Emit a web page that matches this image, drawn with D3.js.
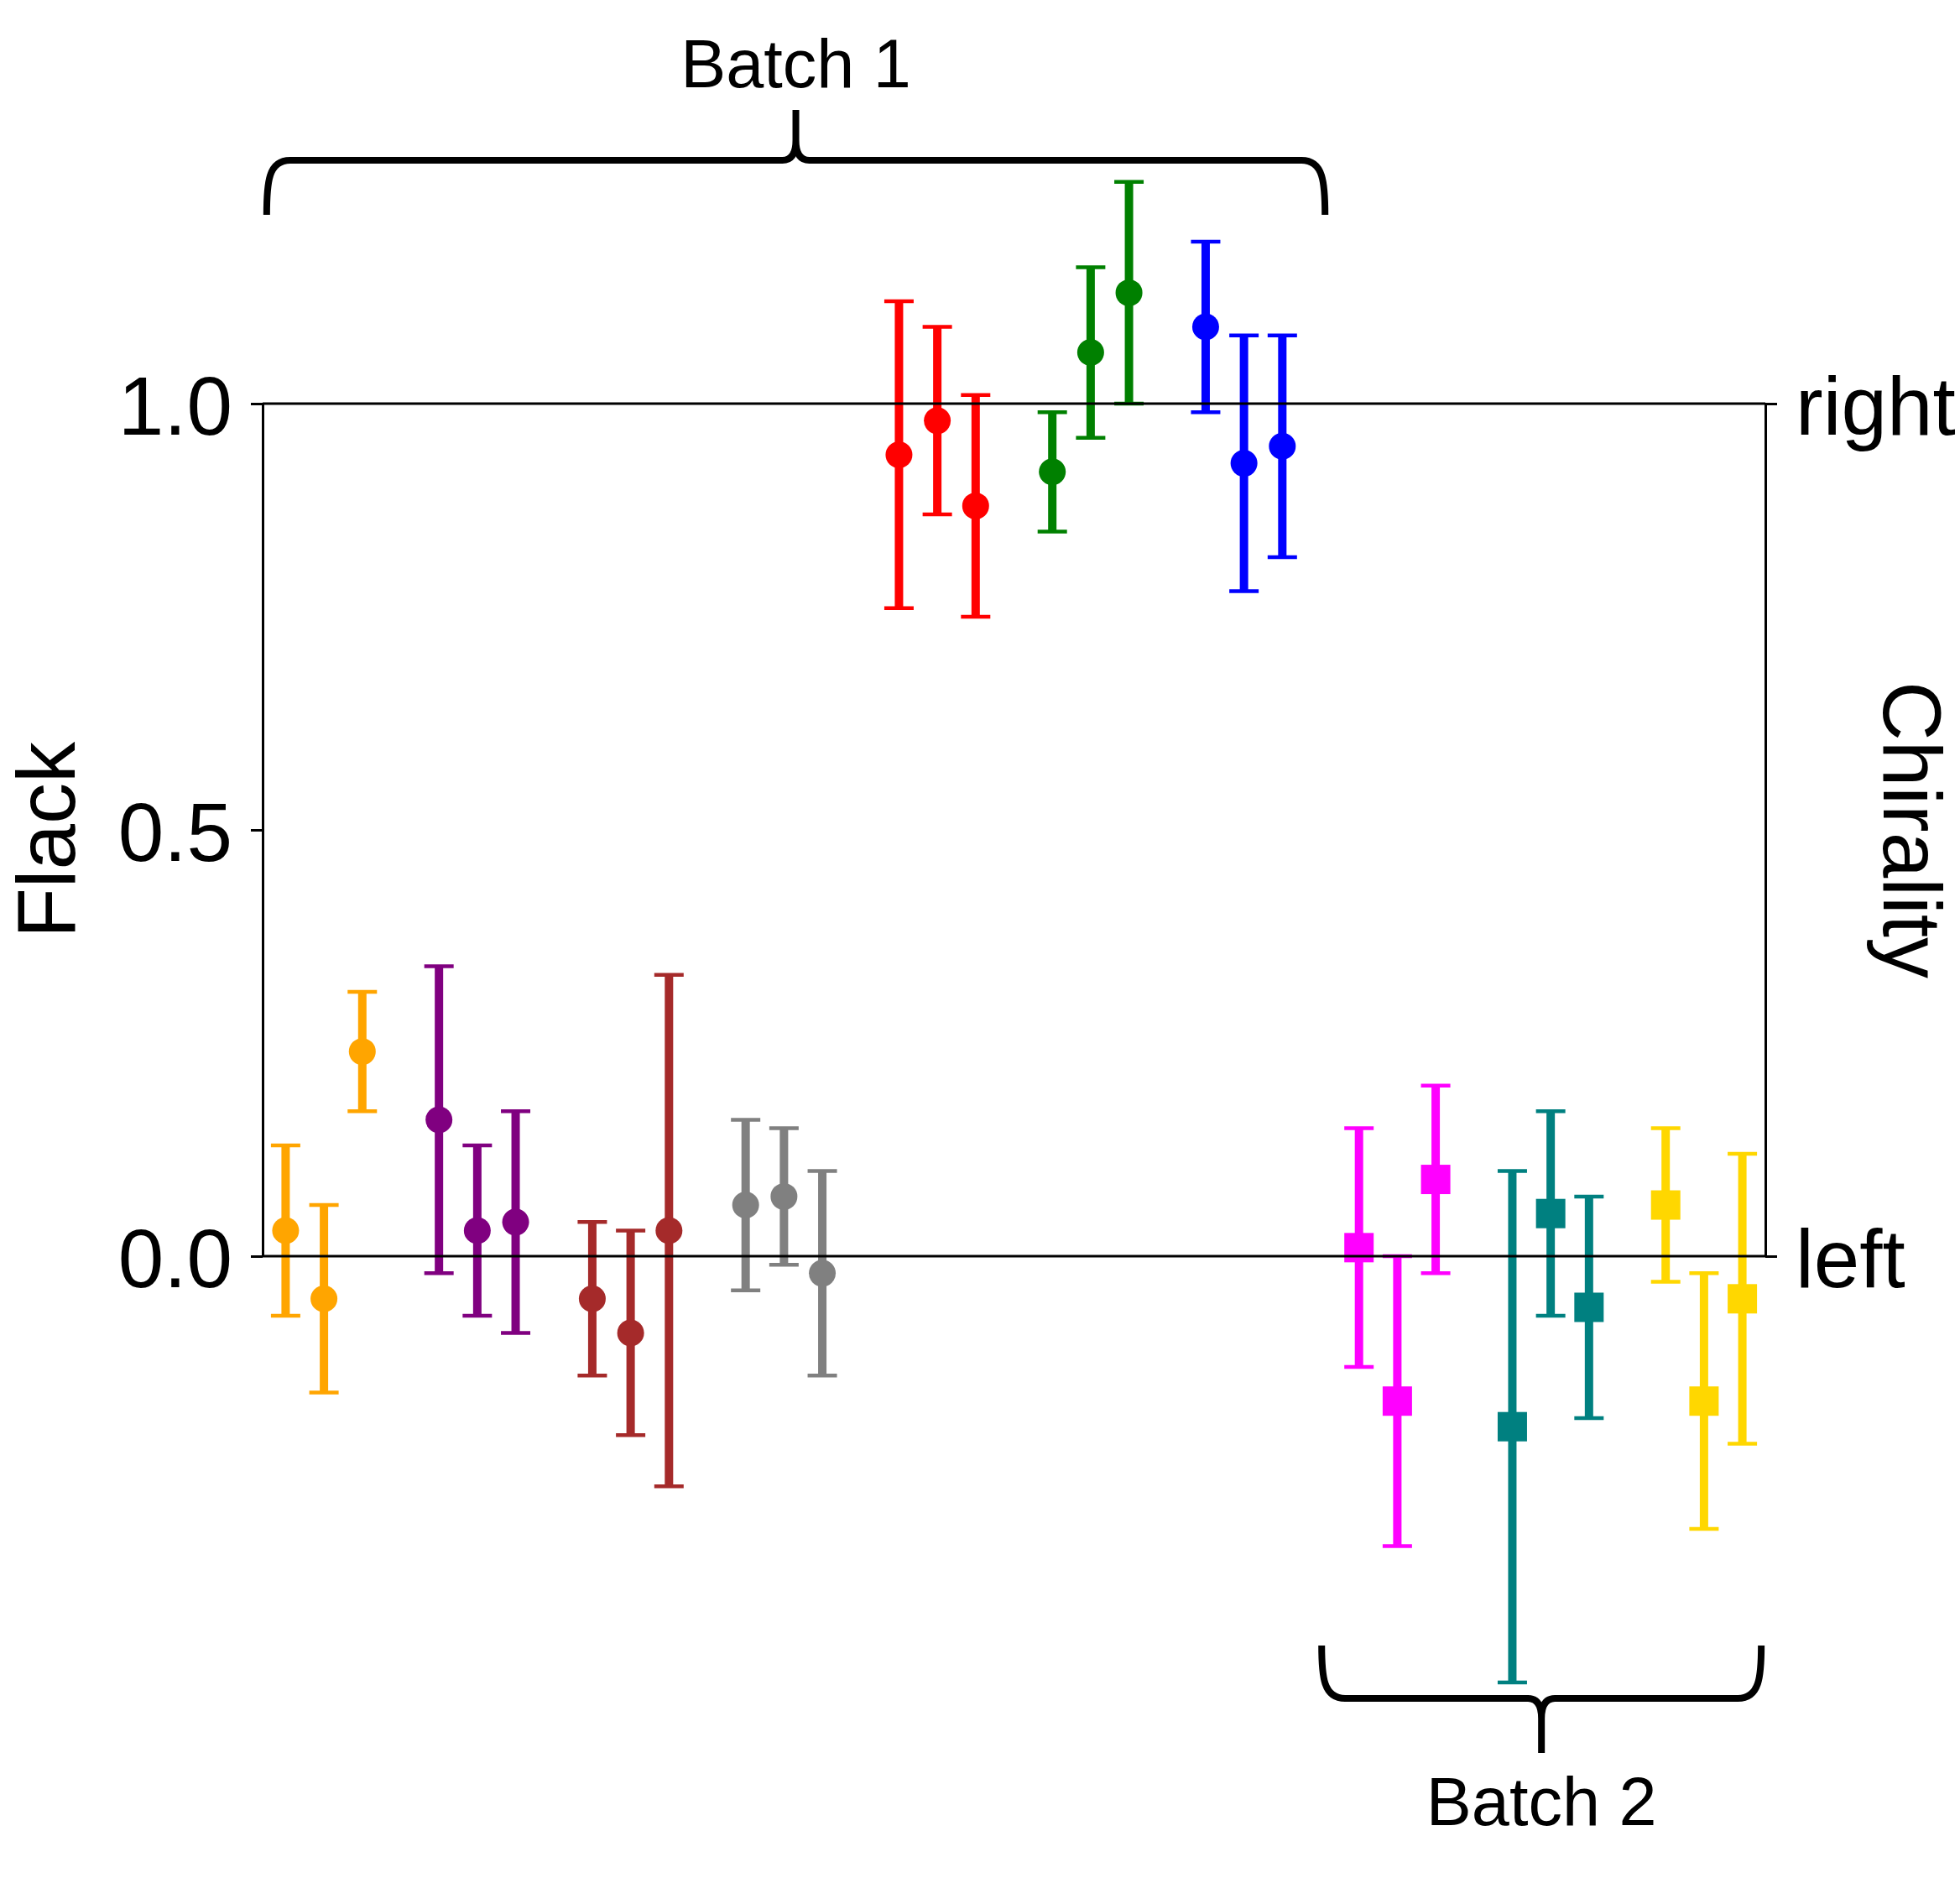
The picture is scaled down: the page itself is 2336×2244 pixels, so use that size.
<!DOCTYPE html>
<html>
<head>
<meta charset="utf-8">
<script src="https://cdn.jsdelivr.net/npm/d3@7"></script>
<style>
  body { margin: 0; background: #fff; }
  text { font-family: "Liberation Sans", Arial, sans-serif; }
</style>
</head>
<body>
<script>
// flack values, three crystals per sample
var groupColors = ["orange", "purple", "brown", "gray", "red", "green", "blue", "magenta", "teal", "gold"];
var groupMarkers = ["circle", "circle", "circle", "circle", "circle", "circle", "circle", "square", "square", "square"];
var flack = [
  [0.03, -0.05, 0.24],
  [0.16, 0.03, 0.04],
  [-0.05, -0.09, 0.03],
  [0.06, 0.07, -0.02],
  [0.94, 0.98, 0.88],
  [0.92, 1.06, 1.13],
  [1.09, 0.93, 0.95],
  [0.01, -0.17, 0.09],
  [-0.20, 0.05, -0.06],
  [0.06, -0.17, -0.05]
];
var flackErr = [
  [0.10, 0.11, 0.07],
  [0.18, 0.10, 0.13],
  [0.09, 0.12, 0.30],
  [0.10, 0.08, 0.12],
  [0.18, 0.11, 0.13],
  [0.07, 0.10, 0.13],
  [0.10, 0.15, 0.13],
  [0.14, 0.17, 0.11],
  [0.30, 0.12, 0.13],
  [0.09, 0.15, 0.17]
];
var leftTicks = [0, 0.5, 1];
var rightTicks = [0, 1];
var rightLabels = ["left", "right"];
var batchNames = ["Batch 1", "Batch 2"];
var batchFrom = [-0.45, 27.07];
var batchTo = [27.07, 38.45];

var W = 2336, H = 2244;
var svg = d3.select("body").append("svg")
    .attr("width", W)
    .attr("height", H);

var x = d3.scaleLinear().domain([-0.6, 38.6]).range([313, 2104]);
var y = d3.scaleLinear().domain([0, 1]).range([1497, 481]);

// flatten to points
var pts = [];
for (var g = 0; g < flack.length; g++) {
  for (var i = 0; i < flack[g].length; i++) {
    pts.push({pos: 4 * g + i, v: flack[g][i], e: flackErr[g][i], color: groupColors[g], marker: groupMarkers[g]});
  }
}

var capW = 17.5;
var marks = svg.append("g");
pts.forEach(function(p) {
  var gp = marks.append("g").attr("fill", p.color).attr("stroke", p.color);
  gp.append("line")
    .attr("x1", x(p.pos)).attr("x2", x(p.pos))
    .attr("y1", y(p.v - p.e)).attr("y2", y(p.v + p.e))
    .attr("stroke-width", 10);
  [p.v - p.e, p.v + p.e].forEach(function(c) {
    gp.append("line")
      .attr("x1", x(p.pos) - capW).attr("x2", x(p.pos) + capW)
      .attr("y1", y(c)).attr("y2", y(c))
      .attr("stroke-width", 4.5);
  });
  if (p.marker == "circle") {
    gp.append("circle").attr("cx", x(p.pos)).attr("cy", y(p.v)).attr("r", 16).attr("stroke", "none");
  } else {
    gp.append("rect").attr("x", x(p.pos) - 17.5).attr("y", y(p.v) - 17.5)
      .attr("width", 35).attr("height", 35).attr("stroke", "none");
  }
});

// frame
var frame = svg.append("g").attr("stroke", "#000").attr("stroke-width", 3);
frame.append("line").attr("x1", x.range()[0]).attr("x2", x.range()[1]).attr("y1", y(1)).attr("y2", y(1));
frame.append("line").attr("x1", x.range()[0]).attr("x2", x.range()[1]).attr("y1", y(0)).attr("y2", y(0));

var leftAxis = svg.append("g")
    .attr("transform", "translate(" + x.range()[0] + ",0)")
    .call(d3.axisLeft(y).tickValues(leftTicks).tickFormat(d3.format(".1f")).tickSize(14).tickSizeOuter(0).tickPadding(22));
var rightAxis = svg.append("g")
    .attr("transform", "translate(" + x.range()[1] + ",0)")
    .call(d3.axisRight(y).tickValues(rightTicks).tickFormat(function(d, i) { return rightLabels[i]; })
      .tickSize(14).tickSizeOuter(0).tickPadding(22));
[leftAxis, rightAxis].forEach(function(a) {
  a.attr("font-size", null).attr("font-family", null);
  a.selectAll("path, line").attr("stroke", "#000").attr("stroke-width", 3);
  a.selectAll("text").attr("font-size", 98).attr("dy", "0.37em").attr("fill", "#000");
});

svg.append("text")
  .attr("transform", "translate(89,1001) rotate(-90)")
  .attr("text-anchor", "middle")
  .attr("font-size", 98)
  .text("Flack");
svg.append("text")
  .attr("transform", "translate(2245,989) rotate(90)")
  .attr("text-anchor", "middle")
  .attr("font-size", 98)
  .text("Chirality");

// curly braces for the batches
function brace(x0, x1, yEnd, yLine, yTip) {
  var xm = (x0 + x1) / 2, r = 26, rt = 16, s = yTip < yLine ? -1 : 1;
  var d = -s; // direction toward the ends
  return "M" + (x0 - 2) + "," + yEnd +
    " C" + (x0 - 2) + "," + (yLine + d * r) + " " + x0 + "," + yLine + " " + (x0 + r) + "," + yLine +
    " L" + (xm - rt) + "," + yLine +
    " Q" + xm + "," + yLine + " " + xm + "," + (yLine + s * rt * 1.5) +
    " L" + xm + "," + yTip +
    " M" + xm + "," + (yLine + s * rt * 1.5) +
    " Q" + xm + "," + yLine + " " + (xm + rt) + "," + yLine +
    " L" + (x1 - r) + "," + yLine +
    " C" + x1 + "," + yLine + " " + (x1 + 2) + "," + (yLine + d * r) + " " + (x1 + 2) + "," + yEnd;
}
var braceLevels = [[1.2215, 1.2854, 1.3445], [-0.4567, -0.5187, -0.5827]];
var braceText = [104, 2175];
for (var b = 0; b < batchNames.length; b++) {
  var lv = braceLevels[b];
  svg.append("path")
    .attr("d", brace(x(batchFrom[b]), x(batchTo[b]), y(lv[0]), y(lv[1]), y(lv[2])))
    .attr("fill", "none").attr("stroke", "#000").attr("stroke-width", 8)
    .attr("stroke-linejoin", "round");
  svg.append("text")
    .attr("x", x((batchFrom[b] + batchTo[b]) / 2))
    .attr("y", braceText[b])
    .attr("text-anchor", "middle")
    .attr("font-size", 81)
    .text(batchNames[b]);
}
</script>
</body>
</html>
